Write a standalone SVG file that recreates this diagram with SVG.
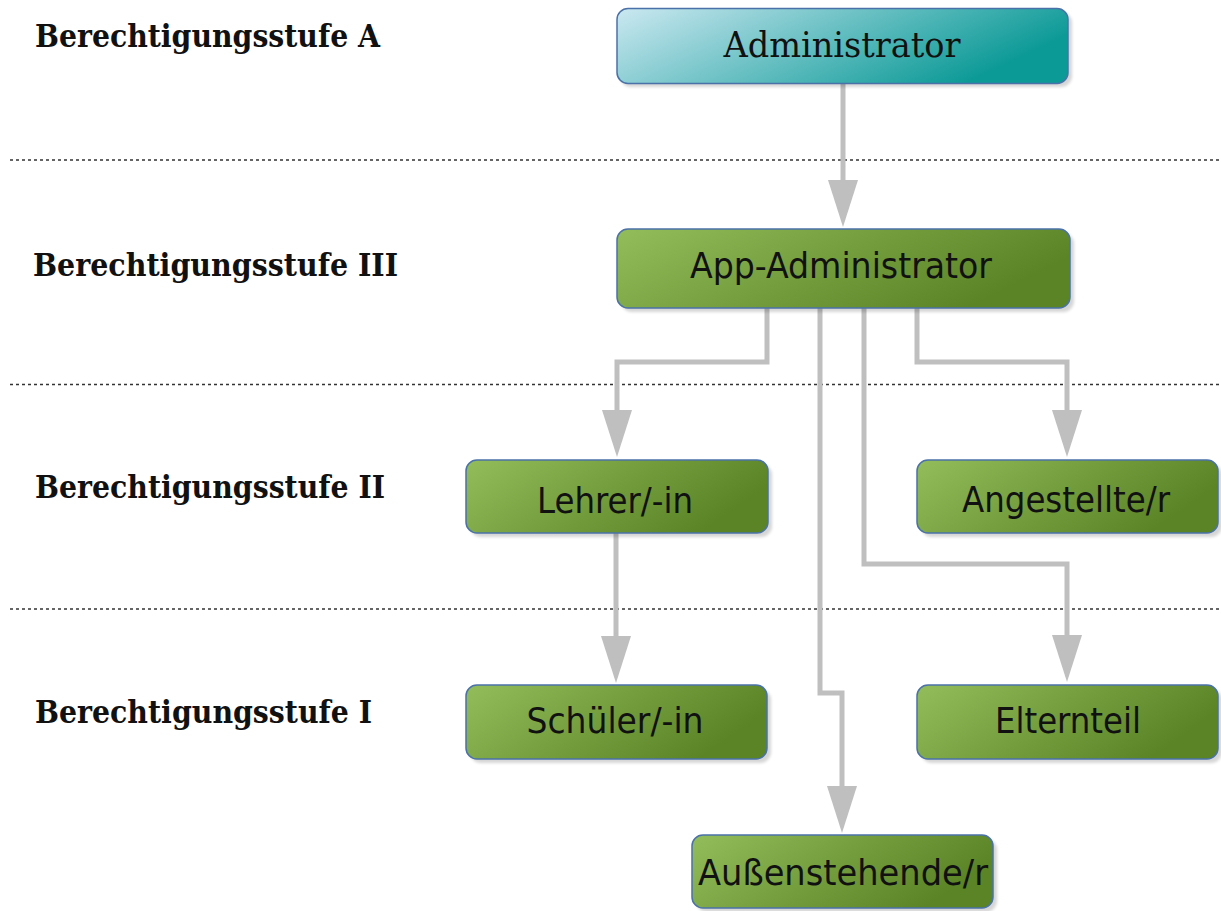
<svg xmlns="http://www.w3.org/2000/svg" width="1221" height="911" viewBox="0 0 1221 911">
<defs>
<linearGradient id="gGreen" x1="0" y1="0" x2="1" y2="0.35">
<stop offset="0" stop-color="#93bc5a"/>
<stop offset="1" stop-color="#5a8426"/>
</linearGradient>
<linearGradient id="gTeal" x1="0" y1="0" x2="1" y2="0.35">
<stop offset="0" stop-color="#cbe8f1"/>
<stop offset="1" stop-color="#0c9a97"/>
</linearGradient>
<filter id="blur" x="-5%" y="-20%" width="110%" height="140%">
<feGaussianBlur stdDeviation="1.5"/>
</filter>
<marker id="arr" markerUnits="userSpaceOnUse" markerWidth="48" markerHeight="32" refX="0" refY="16" orient="auto" viewBox="0 0 48 32">
<path d="M0,1 L47,16 L0,31 Z" fill="#bfbfbf"/>
</marker>
</defs>
<style>
.lvl{font-family:"DejaVu Serif Condensed","DejaVu Serif",serif;font-stretch:condensed;font-weight:bold;font-size:31px;fill:#111}
.sep{stroke:#333;stroke-width:1.5;stroke-dasharray:3,3;fill:none}
.con{stroke:#bfbfbf;stroke-width:5;fill:none;stroke-linejoin:miter}
.box{stroke:#4a72a8;stroke-width:1.5}
.shadow{fill:#000;opacity:0.16}
.t{font-family:"DejaVu Sans Condensed","DejaVu Sans",sans-serif;font-stretch:condensed;font-size:36px;fill:#111;text-anchor:middle}
.ts{font-family:"DejaVu Serif Condensed","DejaVu Serif",serif;font-stretch:condensed;font-size:36px;fill:#111;text-anchor:middle}
</style>
<rect width="1221" height="911" fill="#fff"/>
<g id="levels">
<text class="lvl" x="35" y="47" textLength="345" lengthAdjust="spacingAndGlyphs">Berechtigungsstufe A</text>
<text class="lvl" x="33" y="276" textLength="365" lengthAdjust="spacingAndGlyphs">Berechtigungsstufe III</text>
<text class="lvl" x="35" y="498" textLength="350" lengthAdjust="spacingAndGlyphs">Berechtigungsstufe II</text>
<text class="lvl" x="35" y="723" textLength="337" lengthAdjust="spacingAndGlyphs">Berechtigungsstufe I</text>
</g>
<g id="separators">
<line class="sep" x1="10" y1="160" x2="1221" y2="160"/>
<line class="sep" x1="10" y1="384.5" x2="1221" y2="384.5"/>
<line class="sep" x1="10" y1="609" x2="1221" y2="609"/>
</g>
<g id="connectors">
<path class="con" d="M843,84 V180" marker-end="url(#arr)"/>
<path class="con" d="M767,300 V362 H617 V410" marker-end="url(#arr)"/>
<path class="con" d="M917,300 V362 H1067 V410" marker-end="url(#arr)"/>
<path class="con" d="M864,300 V564 H1067 V635" marker-end="url(#arr)"/>
<path class="con" d="M820,300 V693 H842 V786" marker-end="url(#arr)"/>
<path class="con" d="M616,525 V636" marker-end="url(#arr)"/>
</g>
<g id="n-administrator">
<rect class="shadow" x="620" y="12" width="452" height="75" rx="11" filter="url(#blur)"/>
<rect class="box" x="617" y="8.5" width="451" height="75" rx="11" fill="url(#gTeal)"/>
<text class="ts" x="842" y="57" textLength="237" lengthAdjust="spacingAndGlyphs">Administrator</text>
</g>
<g id="n-appadmin">
<rect class="shadow" x="621" y="233" width="453" height="79" rx="11" filter="url(#blur)"/>
<rect class="box" x="617" y="229" width="453" height="79" rx="11" fill="url(#gGreen)"/>
<text class="t" x="841" y="278" textLength="302" lengthAdjust="spacingAndGlyphs">App-Administrator</text>
</g>
<g id="n-lehrer">
<rect class="shadow" x="470" y="464" width="302" height="73" rx="11" filter="url(#blur)"/>
<rect class="box" x="466" y="460" width="302" height="73" rx="11" fill="url(#gGreen)"/>
<text class="t" x="615" y="513" textLength="156" lengthAdjust="spacingAndGlyphs">Lehrer/-in</text>
</g>
<g id="n-angestellte">
<rect class="shadow" x="921" y="464" width="301" height="73" rx="11" filter="url(#blur)"/>
<rect class="box" x="917" y="460" width="301" height="73" rx="11" fill="url(#gGreen)"/>
<text class="t" x="1066" y="512" textLength="208" lengthAdjust="spacingAndGlyphs">Angestellte/r</text>
</g>
<g id="n-schueler">
<rect class="shadow" x="470" y="689" width="301" height="74" rx="11" filter="url(#blur)"/>
<rect class="box" x="466" y="685" width="301" height="74" rx="11" fill="url(#gGreen)"/>
<text class="t" x="615" y="733" textLength="177" lengthAdjust="spacingAndGlyphs">Schüler/-in</text>
</g>
<g id="n-elternteil">
<rect class="shadow" x="921" y="689" width="301" height="74" rx="11" filter="url(#blur)"/>
<rect class="box" x="917" y="685" width="301" height="74" rx="11" fill="url(#gGreen)"/>
<text class="t" x="1068" y="733" textLength="146" lengthAdjust="spacingAndGlyphs">Elternteil</text>
</g>
<g id="n-aussenstehende">
<rect class="shadow" x="696" y="839" width="301" height="73" rx="11" filter="url(#blur)"/>
<rect class="box" x="692" y="835" width="301" height="73" rx="11" fill="url(#gGreen)"/>
<text class="t" x="843" y="885" textLength="290" lengthAdjust="spacingAndGlyphs">Außenstehende/r</text>
</g>
</svg>
